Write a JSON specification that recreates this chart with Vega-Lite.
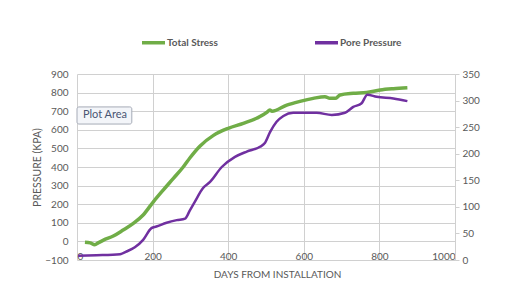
{
  "$schema": "https://vega.github.io/schema/vega-lite/v6.json",
  "width": 378,
  "height": 186,
  "autosize": {"type": "none"},
  "padding": {"left": 77, "top": 74, "right": 58, "bottom": 31},
  "background": "white",
  "config": {
    "view": {"stroke": null},
    "font": "Lato",
    "axis": {"labelFont": "Lato", "titleFont": "Lato", "labelColor": "#595959", "titleColor": "#595959", "labelFontSize": 10, "titleFontSize": 10, "titleFontWeight": "normal", "labelOverlap": false},
    "legend": {"labelFont": "Lato"}
  },
  "datasets": {
    "series": [
      {"day": 21, "value": -4, "series": "Total Stress"},
      {"day": 35, "value": -8, "series": "Total Stress"},
      {"day": 47, "value": -18, "series": "Total Stress"},
      {"day": 56, "value": -8, "series": "Total Stress"},
      {"day": 70, "value": 7, "series": "Total Stress"},
      {"day": 96, "value": 29, "series": "Total Stress"},
      {"day": 122, "value": 61, "series": "Total Stress"},
      {"day": 149, "value": 97, "series": "Total Stress"},
      {"day": 175, "value": 142, "series": "Total Stress"},
      {"day": 202, "value": 213, "series": "Total Stress"},
      {"day": 228, "value": 276, "series": "Total Stress"},
      {"day": 255, "value": 339, "series": "Total Stress"},
      {"day": 281, "value": 400, "series": "Total Stress"},
      {"day": 299, "value": 450, "series": "Total Stress"},
      {"day": 325, "value": 512, "series": "Total Stress"},
      {"day": 361, "value": 570, "series": "Total Stress"},
      {"day": 400, "value": 608, "series": "Total Stress"},
      {"day": 440, "value": 635, "series": "Total Stress"},
      {"day": 475, "value": 662, "series": "Total Stress"},
      {"day": 503, "value": 695, "series": "Total Stress"},
      {"day": 510, "value": 707, "series": "Total Stress"},
      {"day": 516, "value": 700, "series": "Total Stress"},
      {"day": 555, "value": 733, "series": "Total Stress"},
      {"day": 590, "value": 753, "series": "Total Stress"},
      {"day": 625, "value": 769, "series": "Total Stress"},
      {"day": 656, "value": 778, "series": "Total Stress"},
      {"day": 669, "value": 769, "series": "Total Stress"},
      {"day": 683, "value": 769, "series": "Total Stress"},
      {"day": 696, "value": 787, "series": "Total Stress"},
      {"day": 731, "value": 796, "series": "Total Stress"},
      {"day": 766, "value": 801, "series": "Total Stress"},
      {"day": 802, "value": 814, "series": "Total Stress"},
      {"day": 837, "value": 821, "series": "Total Stress"},
      {"day": 874, "value": 826, "series": "Total Stress"},
      {"day": 3, "value": 8, "series": "Pore Pressure"},
      {"day": 52, "value": 9, "series": "Pore Pressure"},
      {"day": 114, "value": 11, "series": "Pore Pressure"},
      {"day": 131, "value": 16, "series": "Pore Pressure"},
      {"day": 153, "value": 24, "series": "Pore Pressure"},
      {"day": 175, "value": 38, "series": "Pore Pressure"},
      {"day": 197, "value": 60, "series": "Pore Pressure"},
      {"day": 210, "value": 63, "series": "Pore Pressure"},
      {"day": 237, "value": 70, "series": "Pore Pressure"},
      {"day": 264, "value": 75, "series": "Pore Pressure"},
      {"day": 286, "value": 78, "series": "Pore Pressure"},
      {"day": 299, "value": 94, "series": "Pore Pressure"},
      {"day": 312, "value": 110, "series": "Pore Pressure"},
      {"day": 333, "value": 135, "series": "Pore Pressure"},
      {"day": 352, "value": 147, "series": "Pore Pressure"},
      {"day": 383, "value": 175, "series": "Pore Pressure"},
      {"day": 418, "value": 194, "series": "Pore Pressure"},
      {"day": 449, "value": 204, "series": "Pore Pressure"},
      {"day": 484, "value": 213, "series": "Pore Pressure"},
      {"day": 497, "value": 220, "series": "Pore Pressure"},
      {"day": 511, "value": 241, "series": "Pore Pressure"},
      {"day": 528, "value": 260, "series": "Pore Pressure"},
      {"day": 546, "value": 271, "series": "Pore Pressure"},
      {"day": 572, "value": 277, "series": "Pore Pressure"},
      {"day": 616, "value": 277, "series": "Pore Pressure"},
      {"day": 634, "value": 277, "series": "Pore Pressure"},
      {"day": 674, "value": 273, "series": "Pore Pressure"},
      {"day": 709, "value": 277, "series": "Pore Pressure"},
      {"day": 731, "value": 288, "series": "Pore Pressure"},
      {"day": 753, "value": 295, "series": "Pore Pressure"},
      {"day": 768, "value": 311, "series": "Pore Pressure"},
      {"day": 793, "value": 307, "series": "Pore Pressure"},
      {"day": 837, "value": 304, "series": "Pore Pressure"},
      {"day": 874, "value": 299, "series": "Pore Pressure"}
    ],
    "note": [
      {"x": 0, "x2": 145, "y": 631, "y2": 723, "mid": 74, "ymid": 677, "label": "Plot Area"}
    ]
  },
  "layer": [
    {
      "layer": [
        {
          "data": {"name": "note"},
          "mark": {"type": "rect", "fill": "#F3F5F9", "stroke": "#A6ABB7", "strokeWidth": 1, "cornerRadius": 2},
          "encoding": {
            "x": {"field": "x", "type": "quantitative"},
            "x2": {"field": "x2"},
            "y": {"field": "y", "type": "quantitative"},
            "y2": {"field": "y2"}
          }
        },
        {
          "data": {"name": "note"},
          "mark": {"type": "text", "font": "Lato", "fontSize": 11, "color": "#4A5573", "align": "center", "baseline": "middle"},
          "encoding": {
            "x": {"field": "mid", "type": "quantitative"},
            "y": {"field": "ymid", "type": "quantitative"},
            "text": {"field": "label"}
          }
        },
        {
          "data": {"name": "series"},
          "transform": [{"filter": "datum.series === 'Total Stress'"}],
          "mark": {"type": "line", "strokeWidth": 3.5, "interpolate": "monotone"},
          "encoding": {
            "x": {"field": "day", "type": "quantitative", "scale": {"domain": [0, 1000], "nice": false},
              "axis": {"values": [0, 200, 400, 600, 800, 1000], "tickCount": 6, "format": "d", "labelOverlap": false, "grid": true, "gridColor": "#D0D0D0", "ticks": false, "domain": false, "labelPadding": -9, "title": "DAYS FROM INSTALLATION", "titleX": 200, "titleY": 9, "titleAlign": "center", "titleBaseline": "top"}},
            "y": {"field": "value", "type": "quantitative", "scale": {"domain": [-100, 900], "nice": false, "zero": false},
              "axis": {"values": [-100, 0, 100, 200, 300, 400, 500, 600, 700, 800, 900], "tickCount": 11, "labelOverlap": false, "grid": true, "gridColor": "#D0D0D0", "ticks": false, "domain": false, "labelPadding": 9, "title": "PRESSURE (KPA)", "titleFontSize": 10.5, "titleX": -40, "titleY": 93, "titleAngle": -90, "titleAlign": "center", "titleBaseline": "middle"}},
            "color": {"field": "series", "type": "nominal",
              "scale": {"domain": ["Total Stress", "Pore Pressure"], "range": ["#70AD47", "#7030A0"]},
              "legend": {"orient": "none", "legendX": 63, "legendY": -45, "direction": "horizontal", "title": null, "symbolType": "stroke", "symbolSize": 529, "symbolStrokeWidth": 3.5, "labelFontSize": 10, "labelFontWeight": "bold", "labelColor": "#595959", "labelOffset": 0, "columnPadding": 90}}
          }
        }
      ]
    },
    {
      "data": {"name": "series"},
      "transform": [{"filter": "datum.series === 'Pore Pressure'"}],
      "mark": {"type": "line", "strokeWidth": 2.5, "interpolate": "monotone"},
      "encoding": {
        "x": {"field": "day", "type": "quantitative"},
        "y": {"field": "value", "type": "quantitative", "scale": {"domain": [0, 350], "nice": false},
          "axis": {"orient": "right", "values": [0, 50, 100, 150, 200, 250, 300, 350], "tickCount": 8, "labelOverlap": false, "grid": false, "ticks": true, "tickSize": 4, "tickColor": "#D0D0D0", "domain": true, "domainColor": "#D0D0D0", "labelPadding": 3, "title": null}},
        "color": {"field": "series", "type": "nominal"}
      }
    }
  ],
  "resolve": {"scale": {"y": "independent"}}
}
